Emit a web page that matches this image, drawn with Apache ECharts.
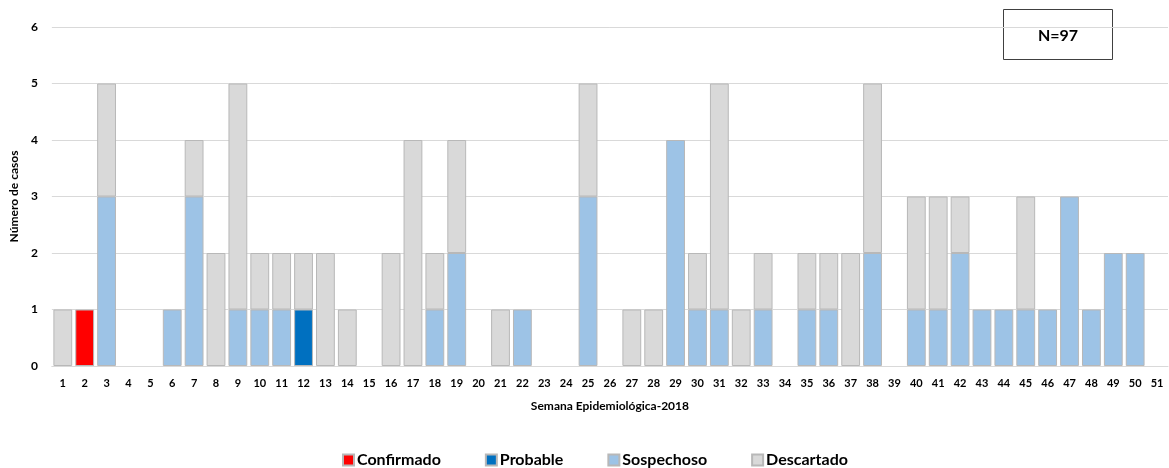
<!DOCTYPE html>
<html>
<head>
<meta charset="utf-8">
<script src="https://cdn.jsdelivr.net/npm/echarts@6/dist/echarts.min.js"></script>
<style>
  html, body { margin: 0; padding: 0; background: #fff; }
  #chart { width: 1169px; height: 468px; }
</style>
</head>
<body>
<div id="chart"></div>
<script>
// Epidemiological weeks 1..51
const weeks = Array.from({ length: 51 }, (_, i) => String(i + 1));

// Cases per week by classification
const confirmado = [0,1,0,0,0,0,0,0,0,0, 0,0,0,0,0,0,0,0,0,0, 0,0,0,0,0,0,0,0,0,0, 0,0,0,0,0,0,0,0,0,0, 0,0,0,0,0,0,0,0,0,0, 0];
const probable   = [0,0,0,0,0,0,0,0,0,0, 0,1,0,0,0,0,0,0,0,0, 0,0,0,0,0,0,0,0,0,0, 0,0,0,0,0,0,0,0,0,0, 0,0,0,0,0,0,0,0,0,0, 0];
const sospechoso = [0,0,3,0,0,1,3,0,1,1, 1,0,0,0,0,0,0,1,2,0, 0,1,0,0,3,0,0,0,4,1, 1,0,1,0,1,1,0,2,0,1, 1,2,1,1,1,1,3,1,2,2, 0];
const descartado = [1,0,2,0,0,0,1,2,4,1, 1,1,2,1,0,2,4,1,2,0, 1,0,0,0,2,0,1,1,0,1, 4,1,1,0,1,1,2,3,0,2, 2,1,0,0,2,0,0,0,0,0, 0];

const totalLabel = 'N=97';

const FONT = 'Lato, "Liberation Sans", sans-serif';
const chart = echarts.init(document.getElementById('chart'));

function series(name, data, color) {
  return {
    name: name,
    type: 'bar',
    stack: 'casos',
    barCategoryGap: '14%',
    data: data.map(v => (v === 0 ? '-' : v)),
    itemStyle: { color: color, borderColor: '#b8b8b8', borderWidth: 1 },
    emphasis: { disabled: true }
  };
}

chart.setOption({
  animation: false,
  textStyle: { fontFamily: FONT },
  grid: { left: 47, right: 1, top: 27, bottom: 102, containLabel: false },
  xAxis: {
    type: 'category',
    data: weeks,
    name: 'Semana Epidemiológica-2018',
    nameLocation: 'middle',
    nameGap: 34,
    nameTextStyle: { fontFamily: FONT, fontWeight: 'bold', fontSize: 12, color: '#000' },
    axisLine: { lineStyle: { color: '#d9d9d9', width: 1 } },
    axisTick: { show: false },
    axisLabel: { interval: 0, fontFamily: FONT, fontWeight: 'bold', fontSize: 11, color: '#000', margin: 12 }
  },
  yAxis: {
    type: 'value',
    min: 0, max: 6, interval: 1,
    name: 'Número de casos',
    nameLocation: 'middle',
    nameGap: 31,
    nameTextStyle: { fontFamily: FONT, fontWeight: 'bold', fontSize: 12, color: '#000' },
    axisLine: { show: false },
    axisTick: { show: false },
    axisLabel: { fontFamily: FONT, fontWeight: 'bold', fontSize: 12, color: '#000', margin: 14 },
    splitLine: { lineStyle: { color: '#d9d9d9', width: 1 } }
  },
  legend: {
    top: 452,
    left: 342,
    padding: 0,
    itemWidth: 11,
    itemHeight: 11,
    itemGap: 44,
    icon: 'rect',
    textStyle: { fontFamily: FONT, fontWeight: 'bold', fontSize: 16, color: '#000', padding: [0, 0, 0, -2] },
    data: ['Confirmado', 'Probable', 'Sospechoso', 'Descartado']
  },
  graphic: [
    {
      type: 'group',
      left: 1003,
      top: 9,
      children: [
        { type: 'rect', shape: { x: 0, y: 0, width: 109, height: 50 }, style: { fill: '#fff', stroke: '#404040', lineWidth: 1 } },
        { type: 'text', x: 54.5, y: 26, style: { text: totalLabel, align: 'center', verticalAlign: 'middle', font: 'bold 16px ' + FONT, fill: '#000' } }
      ]
    }
  ],
  series: [
    series('Confirmado', confirmado, '#ff0000'),
    series('Probable', probable, '#0070c0'),
    series('Sospechoso', sospechoso, '#9dc3e6'),
    series('Descartado', descartado, '#d9d9d9')
  ]
});
</script>
</body>
</html>
